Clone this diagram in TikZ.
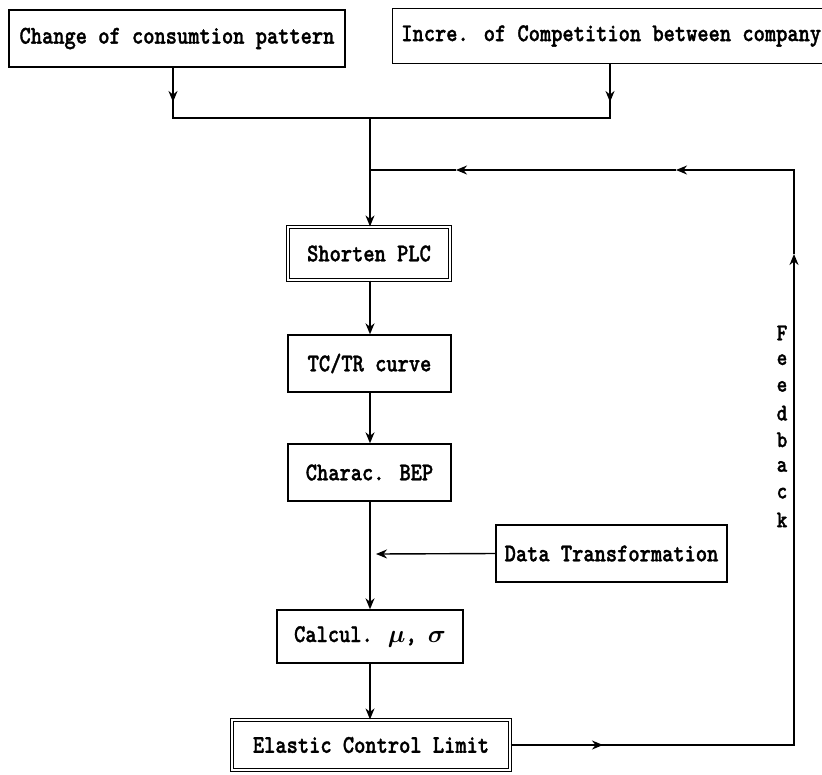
\documentclass[tikz,border=0pt]{standalone}
\usepackage{fontspec}
\newfontfamily\boxfont[FakeStretch=0.84,FakeBold=1.3]{lmmonolt10-bold.otf}
\usetikzlibrary{arrows.meta}
\begin{document}
\begin{tikzpicture}[x=1pt,y=-1pt, line width=1.4pt,
  box/.style={draw, rectangle, inner sep=0pt, font=\fontsize{25.5}{28}\boxfont\boldmath},
  dbox/.style={box, double, double distance=2.2pt, line width=1.2pt},
  tip/.style={-{Stealth[length=11pt,width=9pt,inset=3.5pt]}},
  fb/.style={inner sep=0pt, font=\fontsize{24}{26}\boxfont}]
\useasboundingbox (0,0) rectangle (822,774);

% boxes
\node[box, minimum width=336pt, minimum height=57pt] (b1) at (177,38.5) {Change of consumtion pattern};
\node[box, minimum width=432pt, minimum height=55pt, anchor=west] (b2) at (392,36) {\hspace*{5pt}Incre. of Competition between company\hfill};
\node[dbox, minimum width=162pt, minimum height=53pt] (plc) at (369,253.5) {Shorten PLC};
\node[box, minimum width=163pt, minimum height=57pt] (tc) at (369.5,363.5) {TC/TR curve};
\node[box, minimum width=163pt, minimum height=57pt] (bep) at (369.5,472.5) {Charac. BEP};
\node[box, minimum width=231pt, minimum height=57pt] (dt) at (611.5,553.5) {Data Transformation};
\node[box, minimum width=186pt, minimum height=53pt] (cal) at (370,636.5) {Calcul. $\mu$, $\sigma$};
\node[dbox, minimum width=278pt, minimum height=50pt] (ecl) at (371,745) {Elastic Control Limit};

% coordinates
\coordinate (a1) at (173,102);
\coordinate (a1b) at (173,99);
\coordinate (c1) at (173,118);
\coordinate (a2) at (610,102);
\coordinate (a2b) at (610,99);
\coordinate (c2) at (610,118);
\coordinate (j) at (370,118);
\coordinate (jf) at (370,170);
\coordinate (fa1) at (456,170);
\coordinate (fa1b) at (460,170);
\coordinate (fa2) at (676,170);
\coordinate (fa2b) at (680,170);
\coordinate (ftop) at (794,170);
\coordinate (fup) at (794,254);
\coordinate (fupb) at (794,258);
\coordinate (fbot) at (794,745);
\coordinate (fr) at (603,745);
\coordinate (frb) at (599,745);
\coordinate (dtt) at (376,554);

% top merge
\draw[tip] (b1.south -| c1) -- (a1);
\draw (a1b) -- (c1) -- (c2) -- (a2b);
\draw[tip] (b2.south -| c2) -- (a2);
\draw[tip] (j) -- (plc.north -| j);

% main chain
\draw[tip] (plc.south -| j) -- (tc.north -| j);
\draw[tip] (tc.south -| j) -- (bep.north -| j);
\draw[tip] (bep.south -| j) -- (cal.north -| j);
\draw[tip] (cal.south -| j) -- (ecl.north -| j);

% data transformation
\draw[tip] (dt.west) -- (dtt);

% feedback loop
\draw[tip] (ecl.east |- fbot) -- (fr);
\draw (frb) -- (fbot) -- (fupb);
\draw[tip] (fbot) -- (fup);
\draw (fup) -- (ftop) -- (fa2b);
\draw[tip] (ftop) -- (fa2);
\draw (fa2) -- (fa1b);
\draw[tip] (fa2) -- (fa1);
\draw (fa1) -- (jf);

% Feedback label
\foreach \l [count=\i from 0] in {F,e,e,d,b,a,c,k}
  \node[fb] (fb\i) at (782,{333+26.7*\i}) {\l};
\end{tikzpicture}
\end{document}
